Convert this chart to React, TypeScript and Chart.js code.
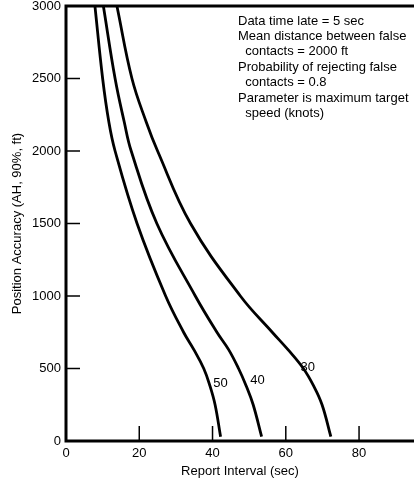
import React, { useEffect, useRef } from "react";
import { Chart, registerables } from "chart.js";

Chart.register(...registerables);

// Position accuracy levels (ft) sampled along each curve
const accuracyLevels = [3000, 2500, 2200, 2000, 1500, 1000, 750, 630, 500, 380, 250, 30];
// Report interval (sec) for each maximum target speed (knots)
const speed50 = [7.9, 10.0, 11.7, 13.4, 19.4, 27.2, 32.1, 34.9, 37.6, 39.3, 40.7, 42.2];
const speed40 = [10.2, 13.4, 15.9, 17.8, 24.8, 35.3, 41.2, 44.4, 47.1, 49.2, 51.1, 53.4];
const speed30 = [13.9, 18.0, 21.9, 25.0, 34.0, 47.6, 56.3, 60.6, 64.8, 67.6, 69.9, 72.3];

const curveLabels = ["50", "40", "30"];
const labelX = [42.2, 52.3, 66.0];
const labelY = [400, 421, 510];

const xTicks = [0, 20, 40, 60, 80];
const yTicks = [0, 500, 1000, 1500, 2000, 2500, 3000];

const noteLines = [
  "Data time late = 5 sec",
  "Mean distance between false",
  "  contacts = 2000 ft",
  "Probability of rejecting false",
  "  contacts = 0.8",
  "Parameter is maximum target",
  "  speed (knots)",
];

const FONT = "'Liberation Sans', Arial, sans-serif";

function toPoints(xs: number[], ys: number[]) {
  return xs.map((x, i) => ({ x, y: ys[i] }));
}

export default function App() {
  const ref = useRef<HTMLCanvasElement | null>(null);

  useEffect(() => {
    document.body.style.margin = "0";
    const canvas = ref.current;
    if (!canvas) return;

    const framePlugin = {
      id: "frame",
      afterDatasetsDraw(chart: any) {
        const { ctx, chartArea, scales } = chart;
        const xs = scales.x;
        const ys = scales.y;
        ctx.save();
        ctx.strokeStyle = "#000";
        // inner ticks
        ctx.lineWidth = 1.5;
        yTicks.forEach((v) => {
          if (v === 0 || v === 3000) return;
          const py = ys.getPixelForValue(v);
          ctx.beginPath();
          ctx.moveTo(chartArea.left, py);
          ctx.lineTo(chartArea.left + 14, py);
          ctx.stroke();
        });
        xTicks.forEach((v) => {
          if (v === 0) return;
          const px = xs.getPixelForValue(v);
          ctx.beginPath();
          ctx.moveTo(px, chartArea.bottom);
          ctx.lineTo(px, chartArea.bottom - 15);
          ctx.stroke();
        });
        // axes lines
        ctx.lineWidth = 3;
        ctx.beginPath();
        ctx.moveTo(chart.width, chartArea.top);
        ctx.lineTo(chartArea.left, chartArea.top);
        ctx.lineTo(chartArea.left, chartArea.bottom);
        ctx.lineTo(chart.width, chartArea.bottom);
        ctx.stroke();
        // curve labels
        ctx.fillStyle = "#000";
        ctx.font = "13px " + FONT;
        ctx.textAlign = "center";
        ctx.textBaseline = "middle";
        curveLabels.forEach((t, i) => {
          ctx.fillText(t, xs.getPixelForValue(labelX[i]), ys.getPixelForValue(labelY[i]));
        });
        // note block
        ctx.textAlign = "left";
        const left = chartArea.left + 172;
        const top = chartArea.top + 15;
        noteLines.forEach((line, i) => {
          ctx.fillText(line, left, top + i * 15.4);
        });
        ctx.restore();
      },
    };

    const mk = (xs: number[]) => ({
      data: toPoints(xs, accuracyLevels),
      borderColor: "#000",
      borderWidth: 2.8,
      pointRadius: 0,
      tension: 0.4,
      fill: false,
    });

    const chart = new Chart(canvas, {
      type: "line",
      data: {
        datasets: [mk(speed50), mk(speed40), mk(speed30)],
      },
      options: {
        indexAxis: "y",
        animation: false,
        responsive: false,
        layout: { padding: { top: 6, left: 0, right: 0, bottom: 0 } },
        plugins: { legend: { display: false }, tooltip: { enabled: false } },
        scales: {
          x: {
            type: "linear",
            position: "bottom",
            min: 0,
            max: 95,
            afterBuildTicks: (s: any) => {
              s.ticks = xTicks.map((v) => ({ value: v }));
            },
            afterFit: (s: any) => {
              s.height = 41;
              s.paddingLeft = 0;
              s.paddingRight = 0;
            },
            grid: { display: false, drawTicks: false },
            border: { display: false },
            ticks: {
              padding: 5,
              color: "#000",
              font: { size: 13, family: FONT },
              maxRotation: 0,
              callback: (v: any) => String(v),
            },
            title: {
              display: true,
              text: "Report Interval (sec)",
              color: "#000",
              font: { size: 13, family: FONT },
              padding: { top: 0, bottom: 3 },
            },
          },
          y: {
            type: "linear",
            position: "left",
            min: 0,
            max: 3000,
            afterBuildTicks: (s: any) => {
              s.ticks = yTicks.map((v) => ({ value: v }));
            },
            afterFit: (s: any) => {
              s.width = 66;
              s.paddingTop = 0;
              s.paddingBottom = 0;
            },
            grid: { display: false, drawTicks: false },
            border: { display: false },
            ticks: {
              padding: 5,
              color: "#000",
              font: { size: 13, family: FONT },
              callback: (v: any) => String(v),
            },
            title: {
              display: true,
              text: "Position Accuracy (AH, 90%, ft)",
              color: "#000",
              font: { size: 13, family: FONT },
              padding: { top: 10, bottom: 0 },
            },
          },
        },
      },
      plugins: [framePlugin],
    });

    return () => chart.destroy();
  }, []);

  return (
    <div style={{ width: 414, height: 482, background: "#fff" }}>
      <canvas ref={ref} width={414} height={482} style={{ display: "block" }} />
    </div>
  );
}
